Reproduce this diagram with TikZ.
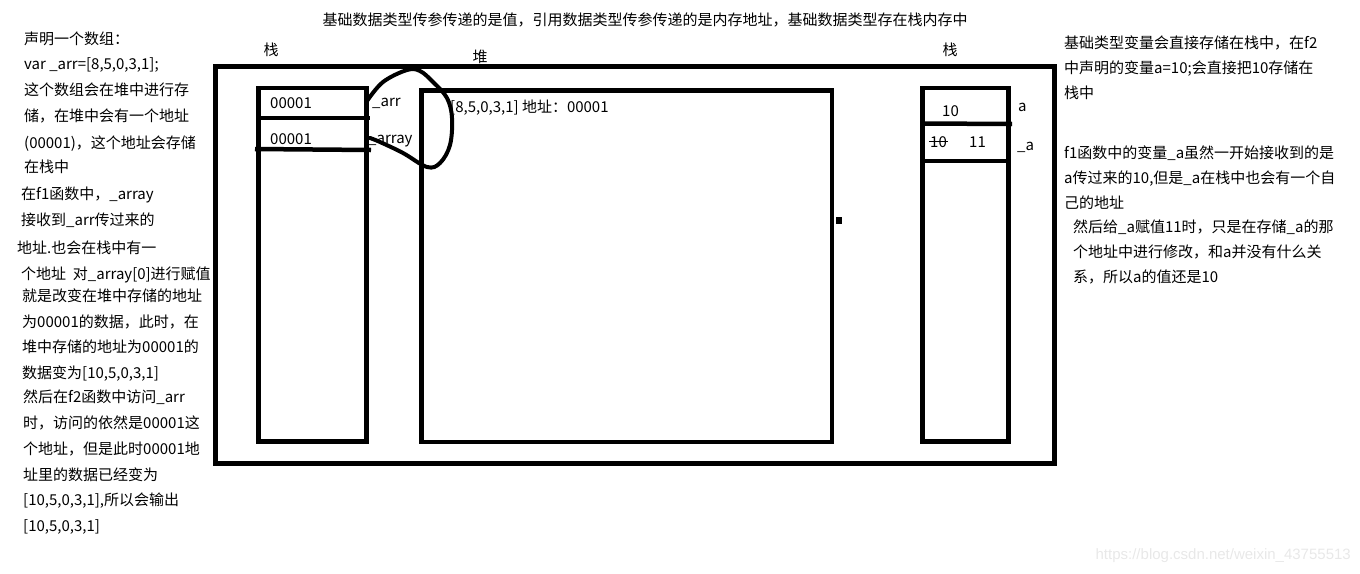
\documentclass[tikz,border=0pt]{standalone}
\usepackage{fontspec}
\setmainfont{Noto Sans CJK SC}
\newfontfamily\wmfont{Liberation Sans}
\begin{document}
\begin{tikzpicture}[x=1pt,y=-1pt,
 wall/.style={line width=4.5pt},
 txt/.style={anchor=base west,inner sep=0pt,font=\fontsize{15}{18}\selectfont},
 head/.style={anchor=base,inner sep=0pt,font=\fontsize{15}{18}\selectfont}]
\useasboundingbox (0,0) rectangle (1360,573);
\draw[wall] (215.5,66.5) rectangle (1054.5,463.5);
\draw[wall] (258.5,88) rectangle (366.5,441.5);
\draw[wall] (421.5,90.5) rectangle (832,442);
\draw[wall] (922.5,88) rectangle (1008.5,441.5);
\draw[wall] (258.5,118) -- (370,118);
\draw[wall] (255,149) -- (371,150);
\draw[wall] (922.5,123.5) -- (1012,124);
\draw[wall] (922.5,161) -- (1010,161);
\fill (836,217) rectangle (842,224);
\draw[line width=4pt,line cap=round] plot[smooth,tension=0.6] coordinates {(367,101) (383,82) (407,70) (420,71) (433,82) (447,98) (452,118) (450,145) (440,163) (427,167) (403,153) (380,142) (370,138)};
\node[head] (title) at (645,25.5) {基础数据类型传参传递的是值，引用数据类型传参传递的是内存地址，基础数据类型存在栈内存中};
\node[head] (stackl) at (271,55.5) {栈};
\node[head] (heap) at (480,62.5) {堆};
\node[head] (stackr) at (950,55.5) {栈};
\node[txt] (addr1) at (270,108) {00001};
\node[txt] (addr2) at (270,144) {00001};
\node[txt] (arr) at (372,106) {\_arr};
\node[txt] (array) at (368,143) {\_array};
\node[txt] (data) at (450,112) {[8,5,0,3,1] 地址：00001};
\node[txt] (val) at (942,116) {10};
\node[txt] (old) at (930,147) {10};
\node[txt] (new) at (969,147) {11};
\node[txt] (vara) at (1018,111) {a};
\node[txt] (varb) at (1017,150) {\_a};
\draw[line width=1.3pt] (929,141.5) -- (948,141.5);
\foreach \x/\y/\t [count=\i] in {
 24/39/{声明一个数组：},
 24/64/{var \_arr=[8,5,0,3,1];},
 24/90/{这个数组会在堆中进行存},
 24/116/{储，在堆中会有一个地址},
 24/143/{(00001)，这个地址会存储},
 24/167/{在栈中},
 21/194/{在f1函数中，\_array},
 21/220/{接收到\_arr传过来的},
 17/248/{地址.也会在栈中有一},
 21/274/{个地址\ \ 对\_array[0]进行赋值},
 22/296/{就是改变在堆中存储的地址},
 22/322/{为00001的数据，此时，在},
 22/347/{堆中存储的地址为00001的},
 22/373/{数据变为[10,5,0,3,1]},
 23/397/{然后在f2函数中访问\_arr},
 23/423/{时，访问的依然是00001这},
 23/449/{个地址，但是此时00001地},
 23/475/{址里的数据已经变为},
 23/500/{[10,5,0,3,1],所以会输出},
 23/526/{[10,5,0,3,1]}}
 \node[txt] (left\i) at (\x,\y+5.5) {\t};
\foreach \x/\y/\t [count=\i] in {
 1064/43/{基础类型变量会直接存储在栈中，在f2},
 1064/68/{中声明的变量a=10;会直接把10存储在},
 1064/93/{栈中},
 1064/153/{f1函数中的变量\_a虽然一开始接收到的是},
 1064/178/{a传过来的10,但是\_a在栈中也会有一个自},
 1064/203/{己的地址},
 1073/227/{然后给\_a赋值11时，只是在存储\_a的那},
 1073/252/{个地址中进行修改，和a并没有什么关},
 1073/277/{系，所以a的值还是10}}
 \node[txt] (right\i) at (\x,\y+5.5) {\t};
\node[anchor=base east,inner sep=0pt,text=gray!18,font=\wmfont\fontsize{15}{18}\selectfont] (mark) at (1351,559) {https://blog.csdn.net/weixin\_43755513};
\end{tikzpicture}
\end{document}
